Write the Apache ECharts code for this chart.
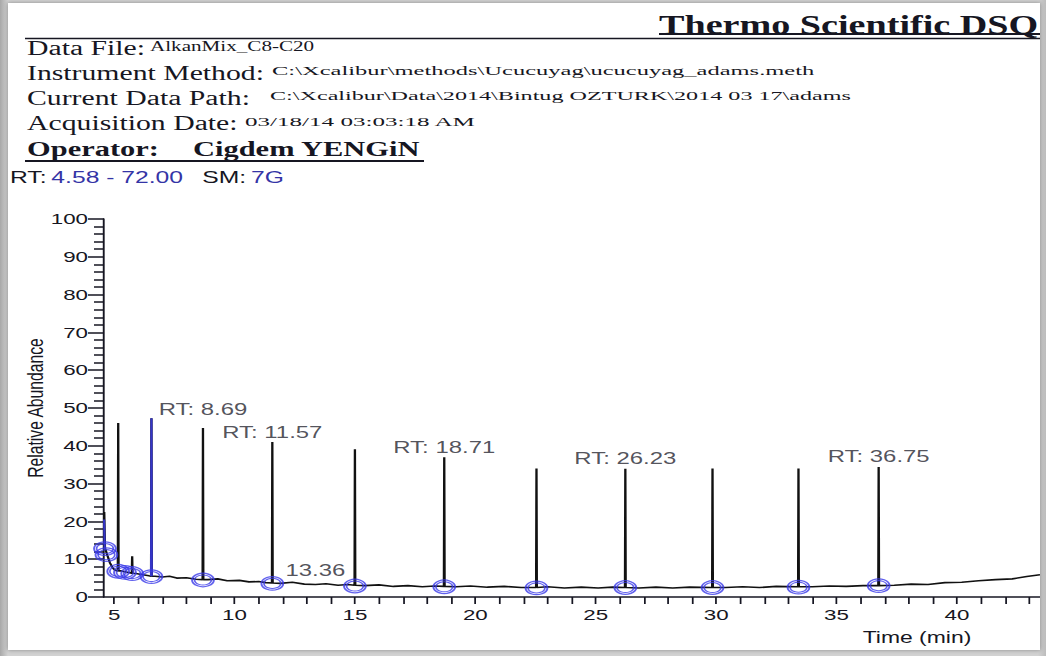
<!DOCTYPE html>
<html>
<head>
<meta charset="utf-8">
<title>AlkanMix_C8-C20</title>
<script src="https://cdn.jsdelivr.net/npm/echarts@6/dist/echarts.min.js"></script>
<style>
  html, body { margin: 0; padding: 0; }
  body {
    width: 1046px; height: 656px; position: relative; overflow: hidden;
    background: linear-gradient(to right, #a8a8a8 0px, #d2d2d2 8px, #d2d2d2 1038px, #bcbcbc 1046px);
  }
  #paper {
    position: absolute; left: 8px; top: 3px; width: 1032px; height: 647px;
    background: #fff; box-shadow: 0 0 4px rgba(0, 0, 0, 0.35);
  }
  #clip {
    position: absolute; left: 0; top: 0; width: 1046px; height: 656px;
    clip-path: inset(3px 6px 6px 8px);
  }
  #chart { position: absolute; left: 0; top: 0; height: 656px; transform-origin: 0 0; }
</style>
</head>
<body>
<div id="paper"></div>
<div id="clip"><div id="chart"></div></div>
<script>
  // ---- data --------------------------------------------------------------
  const timeRange = [4.58, 43.45];
  const xLabels = [5, 10, 15, 20, 25, 30, 35, 40];
  const xTicks = [5, 6, 7, 8, 9, 10, 11, 12, 13, 14, 15, 16, 17, 18, 19, 20, 21, 22, 23, 24,
    25, 26, 27, 28, 29, 30, 31, 32, 33, 34, 35, 36, 37, 38, 39, 40, 41, 42, 43];

  // baseline of the TIC trace (min, relative abundance)
  const baseTimes = [4.59, 4.62, 4.72, 4.83, 4.95, 5.05, 5.3, 5.5, 5.9, 6.2, 6.45, 6.7, 7.0, 7.3,
    7.6, 8.0, 8.4, 8.9, 9.3, 9.7, 10.2, 10.6, 11.0, 11.3, 11.9, 12.4, 12.9, 13.36, 13.8, 14.3,
    14.7, 15.4, 16.0, 16.6, 17.2, 17.8, 18.3, 19.2, 19.8, 20.5, 21.2, 21.9, 23.0, 23.7, 24.4,
    25.1, 25.7, 26.8, 27.5, 28.2, 28.9, 30.4, 31.1, 31.8, 32.5, 34.0, 34.7, 35.4, 36.1, 37.4,
    38.1, 38.8, 39.5, 40.2, 40.9, 41.6, 42.3, 42.9, 43.45];
  const baseValues = [22.5, 13.0, 11.0, 9.0, 7.6, 7.1, 6.9, 6.6, 6.2, 5.9, 5.6, 5.5, 5.3, 5.5,
    5.0, 5.1, 4.7, 4.6, 4.8, 4.3, 4.4, 4.0, 4.1, 3.8, 3.6, 3.9, 3.4, 3.3, 3.5, 3.1,
    3.3, 3.0, 3.2, 2.8, 3.0, 2.7, 2.9, 2.7, 2.9, 2.6, 2.8, 2.5, 2.7, 2.4, 2.6,
    2.4, 2.6, 2.4, 2.6, 2.4, 2.6, 2.5, 2.7, 2.5, 2.8, 2.7, 2.9, 2.8, 3.0, 3.1,
    3.4, 3.3, 3.8, 3.9, 4.3, 4.6, 4.8, 5.4, 5.9];

  // peaks: apex time, apex height, baseline under the peak
  const peakTimes = [5.17, 5.75, 6.55, 8.69, 11.57, 15.0, 18.71, 22.54, 26.23, 29.85, 33.42, 36.75];
  const peakTops = [46.0, 10.8, 47.3, 44.7, 41.0, 39.1, 37.0, 34.0, 33.9, 34.0, 34.0, 34.4];
  const peakBases = [6.9, 6.3, 5.5, 4.6, 3.7, 3.1, 2.8, 2.5, 2.5, 2.5, 2.7, 3.0];

  // highlighted (blue) parts of the trace
  const selectedPeak = 6.55;
  const blueStartTimes = [4.585, 4.61];
  const blueStartValues = [20.5, 12.6];

  // integration markers (blue rings)
  const ringTimes = [4.62, 4.68, 5.17, 5.45, 5.75, 6.55, 8.69, 11.57, 15.0, 18.71, 22.54, 26.23, 29.85, 33.42, 36.75];
  const ringValues = [12.8, 11.2, 6.8, 6.5, 6.2, 5.4, 4.5, 3.6, 2.9, 2.7, 2.4, 2.5, 2.5, 2.6, 3.0];

  // annotated retention times
  const rtLabelTimes = [8.69, 11.57, 18.71, 26.23, 36.75];
  const minorLabelTimes = [13.36];
  const minorLabelValues = [3.3];

  // ---- layout ------------------------------------------------------------
  const SX_TARGET = 1.45;                 // the printout is stretched horizontally
  const W = Math.round(1046 / SX_TARGET);
  const SX = 1046 / W;
  const px = x => x / SX;                 // reference pixel -> chart pixel

  const chartDom = document.getElementById('chart');
  chartDom.style.width = W + 'px';
  chartDom.style.transform = 'scaleX(' + SX + ')';

  const SANS = 'Liberation Sans, Arial, sans-serif';
  const SERIF = 'Liberation Serif, Times New Roman, serif';
  const INK = '#161622';
  const BLUE = '#3a3ae8';

  // trace built from baseline + peaks
  const tracePoints = baseTimes.map((t, i) => [t, baseValues[i]]);
  peakTimes.forEach((t, i) => {
    tracePoints.push([t - 0.015, peakBases[i]], [t, peakTops[i]], [t + 0.015, peakBases[i]]);
  });
  tracePoints.sort((a, b) => a[0] - b[0]);

  const sel = peakTimes.indexOf(selectedPeak);
  const bluePeak = [
    [selectedPeak - 0.015, peakBases[sel]],
    [selectedPeak, peakTops[sel]],
    [selectedPeak + 0.015, peakBases[sel]]
  ];
  const blueStart = blueStartTimes.map((t, i) => [t, blueStartValues[i]]);
  const rings = ringTimes.map((t, i) => [t, ringValues[i]]);

  const labelData = rtLabelTimes.map(t => {
    const i = peakTimes.indexOf(t);
    return {
      value: [t, peakTops[i]],
      name: 'RT: ' + t.toFixed(2),
      label: { distance: t === 8.69 ? 11 : 2 }
    };
  }).concat(minorLabelTimes.map((t, i) => ({
    value: [t, minorLabelValues[i]],
    name: t.toFixed(2),
    label: { distance: 6 }
  })));

  const headerLabel = (text, y) => ({
    type: 'text', x: px(27), y: y,
    style: { text: text, fontFamily: SERIF, fontSize: 20.5, fill: INK, verticalAlign: 'middle' }
  });
  const headerValue = (text, x, y, size, stretch) => ({
    type: 'text', x: px(x), y: y, scaleX: stretch,
    style: { text: text, fontFamily: SERIF, fontSize: size, fill: INK, verticalAlign: 'middle' }
  });
  const rule = (x1, x2, y, w) => ({
    type: 'line',
    shape: { x1: px(x1), y1: y, x2: px(x2), y2: y },
    style: { stroke: INK, lineWidth: w }
  });

  const chart = echarts.init(chartDom, null, { renderer: 'svg' });

  chart.setOption({
    animation: false,
    backgroundColor: 'transparent',
    grid: {
      left: px(104), right: W - px(1040), top: 219, bottom: 59,
      containLabel: false,
      outerBoundsMode: 'none'
    },
    graphic: [
      {
        type: 'text', x: px(659), y: 25,
        style: { text: 'Thermo Scientific DSQ', fontFamily: SERIF, fontWeight: 'bold', fontSize: 26.3, fill: INK, verticalAlign: 'middle' }
      },
      rule(659, 1040, 34, 1.8),
      rule(25, 1040, 38.5, 1.5),
      headerLabel('Data File:', 48),
      headerValue('AlkanMix_C8-C20', 150, 46, 14, 1.04),
      headerLabel('Instrument Method:', 73),
      headerValue('C:\\Xcalibur\\methods\\Ucucuyag\\ucucuyag_adams.meth', 272, 71, 13, 1.3),
      headerLabel('Current Data Path:', 98),
      headerValue('C:\\Xcalibur\\Data\\2014\\Bintug OZTURK\\2014 03 17\\adams', 270, 96, 13, 1.28),
      headerLabel('Acquisition Date:', 123),
      headerValue('03/18/14 03:03:18 AM', 245, 121, 13, 1.33),
      {
        type: 'text', x: px(27), y: 149,
        style: { text: 'Operator:', fontFamily: SERIF, fontWeight: 'bold', fontSize: 21, fill: INK, verticalAlign: 'middle' }
      },
      {
        type: 'text', x: px(193), y: 149,
        style: { text: 'Cigdem YENGiN', fontFamily: SERIF, fontWeight: 'bold', fontSize: 21, fill: INK, verticalAlign: 'middle' }
      },
      rule(25, 424, 161, 1.8),
      {
        type: 'text', x: px(10), y: 177,
        style: {
          text: '{k|RT:} {v|4.58 - 72.00}    {k|SM:} {v|7G}',
          verticalAlign: 'middle',
          rich: {
            k: { fontFamily: SANS, fontSize: 17, fill: INK },
            v: { fontFamily: SANS, fontSize: 17, fill: '#3434a6' }
          }
        }
      },
      {
        type: 'text', x: px(917), y: 637,
        style: { text: 'Time (min)', fontFamily: SANS, fontSize: 15.8, fill: INK, align: 'center', verticalAlign: 'middle' }
      }
    ],
    xAxis: {
      type: 'value',
      min: timeRange[0],
      max: timeRange[1],
      axisLine: { show: true, onZero: false, lineStyle: { color: INK, width: 1.5 } },
      axisTick: { show: true, customValues: xTicks, length: 7, lineStyle: { color: INK, width: 1.2 } },
      axisLabel: {
        customValues: xLabels,
        margin: 10,
        color: INK,
        fontFamily: SANS,
        fontSize: 15.4,
        formatter: v => String(v)
      },
      splitLine: { show: false }
    },
    yAxis: {
      type: 'value',
      min: 0,
      max: 100,
      interval: 10,
      name: 'Relative Abundance',
      nameLocation: 'middle',
      nameGap: 40,
      nameMoveOverlap: false,
      nameTextStyle: { fontFamily: SANS, fontSize: 15.7, color: INK },
      axisLine: { show: true, lineStyle: { color: INK, width: 1.3 } },
      axisTick: { show: true, length: px(16), lineStyle: { color: INK, width: 1.5 } },
      minorTick: { show: true, splitNumber: 5, length: px(10), lineStyle: { color: INK, width: 1.5 } },
      axisLabel: { margin: px(16), color: INK, fontFamily: SANS, fontSize: 15.4 },
      splitLine: { show: false },
      minorSplitLine: { show: false }
    },
    series: [
      {
        name: 'TIC',
        type: 'line',
        data: tracePoints,
        showSymbol: false,
        lineStyle: { color: '#111', width: 1.6 },
        z: 2
      },
      {
        name: 'selected peak',
        type: 'line',
        data: bluePeak,
        showSymbol: false,
        lineStyle: { color: '#3535c8', width: 1.5 },
        z: 3
      },
      {
        name: 'start',
        type: 'line',
        data: blueStart,
        showSymbol: false,
        lineStyle: { color: '#3535c8', width: 1.5 },
        z: 3
      },
      {
        name: 'rings outer',
        type: 'scatter',
        data: rings,
        symbol: 'circle',
        symbolSize: [15, 13.5],
        itemStyle: { color: 'transparent', borderColor: BLUE, borderWidth: 1.3 },
        z: 4
      },
      {
        name: 'rings inner',
        type: 'scatter',
        data: rings,
        symbol: 'circle',
        symbolSize: [11.5, 10],
        itemStyle: { color: 'transparent', borderColor: BLUE, borderWidth: 1.1 },
        z: 4
      },
      {
        name: 'labels',
        type: 'scatter',
        data: labelData,
        symbolSize: 0,
        label: {
          show: true,
          position: 'top',
          formatter: p => p.name,
          color: '#262630',
          fontFamily: SANS,
          fontSize: 16.5
        },
        z: 5
      }
    ]
  });
</script>
</body>
</html>
